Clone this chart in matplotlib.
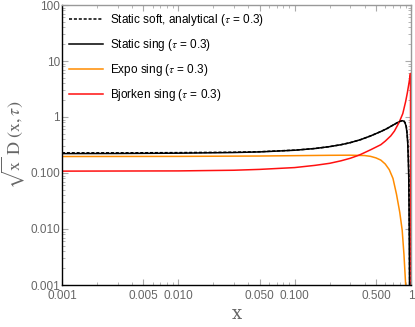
import matplotlib
matplotlib.use('Agg')
from matplotlib import pyplot as plt
from matplotlib.ticker import FixedLocator, LogLocator, NullFormatter

plt.rcParams['font.family'] = ['Liberation Sans', 'DejaVu Sans']
plt.rcParams['mathtext.fontset'] = 'stix'

# values
x_static = [0.001, 0.003, 0.01, 0.03, 0.05, 0.1, 0.15, 0.2, 0.25, 0.3, 0.37, 0.45, 0.55,
            0.62, 0.67, 0.72, 0.77, 0.81, 0.84, 0.87, 0.89, 0.91, 0.925, 0.937,
            0.947, 0.956, 0.962, 0.967, 0.971]
y_static = [0.222, 0.223, 0.226, 0.232, 0.238, 0.255, 0.274, 0.296, 0.32, 0.348, 0.395, 0.46,
            0.55, 0.62, 0.68, 0.74, 0.8, 0.84, 0.86, 0.84, 0.78, 0.67, 0.5, 0.34,
            0.18, 0.086, 0.025, 0.006, 0.001]

x_soft = [0.001, 0.003, 0.01, 0.03, 0.05, 0.1, 0.15, 0.2, 0.25, 0.3, 0.37, 0.45, 0.55,
          0.62, 0.67, 0.72, 0.77, 0.81, 0.84, 0.87, 0.89, 0.91, 0.927, 0.94,
          0.95, 0.959, 0.965, 0.97, 0.974]
y_soft = [0.229, 0.229, 0.231, 0.235, 0.24, 0.256, 0.274, 0.296, 0.32, 0.348, 0.395, 0.46,
          0.55, 0.62, 0.68, 0.74, 0.8, 0.84, 0.86, 0.845, 0.79, 0.68, 0.5, 0.34,
          0.18, 0.086, 0.025, 0.006, 0.001]

x_expo = [0.001, 0.01, 0.05, 0.1, 0.2, 0.3, 0.4, 0.45, 0.5, 0.55, 0.6, 0.65, 0.7,
          0.75, 0.8, 0.84, 0.87, 0.9]
y_expo = [0.197, 0.198, 0.201, 0.204, 0.207, 0.208, 0.205, 0.198, 0.186, 0.17, 0.145,
          0.115, 0.08, 0.042, 0.02, 0.0095, 0.0035, 0.001]

x_bjork = [0.001, 0.01, 0.03, 0.05, 0.1, 0.15, 0.2, 0.25, 0.3, 0.35, 0.37, 0.45, 0.55,
           0.6, 0.67, 0.72, 0.79, 0.85, 0.9, 0.93, 0.96, 0.98, 0.99, 0.9995]
y_bjork = [0.108, 0.109, 0.112, 0.116, 0.125, 0.137, 0.149, 0.165, 0.183, 0.205, 0.215,
           0.26, 0.32, 0.37, 0.46, 0.56, 0.8, 1.15, 1.9, 2.7, 4.0, 5.3, 6.0, 1e-5]

labels = ['Static soft, analytical ($\\tau$ = 0.3)', 'Static sing ($\\tau$ = 0.3)',
          'Expo sing ($\\tau$ = 0.3)', 'Bjorken sing ($\\tau$ = 0.3)']

xticks = [0.001, 0.005, 0.01, 0.05, 0.1, 0.5, 1]
xtick_labels = ['0.001', '0.005', '0.010', '0.050', '0.100', '0.500', '1']
yticks = [0.001, 0.01, 0.1, 1, 10, 100]
ytick_labels = ['0.001', '0.010', '0.100', '1', '10', '100']

fig = plt.figure(figsize=(4.15, 3.27), dpi=100)
ax = fig.add_axes([62 / 415, 1 - 285 / 327, 349 / 415, 280 / 327])

ax.plot(x_static, y_static, color='black', lw=1.1, label=labels[1])
ax.plot(x_expo, y_expo, color='#ff8c00', lw=1.1, label=labels[2])
ax.plot(x_bjork, y_bjork, color='#ff1010', lw=1.1, label=labels[3])
ax.plot(x_soft, y_soft, color='black', lw=1.1, ls=(0, (2, 1.2)), label=labels[0])

ax.set_xscale('log')
ax.set_yscale('log')
ax.set_xlim(0.001, 1)
ax.set_ylim(0.001, 100)

ax.xaxis.set_major_locator(FixedLocator(xticks))
ax.set_xticklabels(xtick_labels)
ax.yaxis.set_major_locator(FixedLocator(yticks))
ax.set_yticklabels(ytick_labels)
ax.xaxis.set_minor_locator(LogLocator(base=10, subs=range(2, 10)))
ax.yaxis.set_minor_locator(LogLocator(base=10, subs=range(2, 10)))
ax.xaxis.set_minor_formatter(NullFormatter())
ax.yaxis.set_minor_formatter(NullFormatter())

ax.tick_params(which='both', direction='in', top=True, right=True, colors='#aaaaaa',
               labelcolor='#666666', labelsize=8.5)
ax.tick_params(which='major', length=4)
ax.tick_params(which='minor', length=2)
ax.tick_params(axis='x', pad=3.5)
ax.tick_params(axis='y', pad=1.5)

for side in ['left', 'bottom']:
    ax.spines[side].set_color('black')
    ax.spines[side].set_linewidth(1.0)
for side in ['top', 'right']:
    ax.spines[side].set_color('#999999')
    ax.spines[side].set_linewidth(1.0)

ax.set_xlabel('x', family='serif', fontsize=13, color='#666666', labelpad=2)
ax.set_ylabel(r'$\sqrt{\mathrm{x}}\ \mathrm{D}\ (\mathrm{x},\tau)$', fontsize=13,
              color='#666666', labelpad=2)

handles, labs = ax.get_legend_handles_labels()
order = [3, 0, 1, 2]
ax.legend([handles[i] for i in order], [labs[i] for i in order], loc='upper left',
          frameon=False, fontsize=8.5, handlelength=2.9, handletextpad=0.6,
          labelspacing=0.75, borderaxespad=0.3, borderpad=0.3)

fig.savefig('out.png', dpi=100)
